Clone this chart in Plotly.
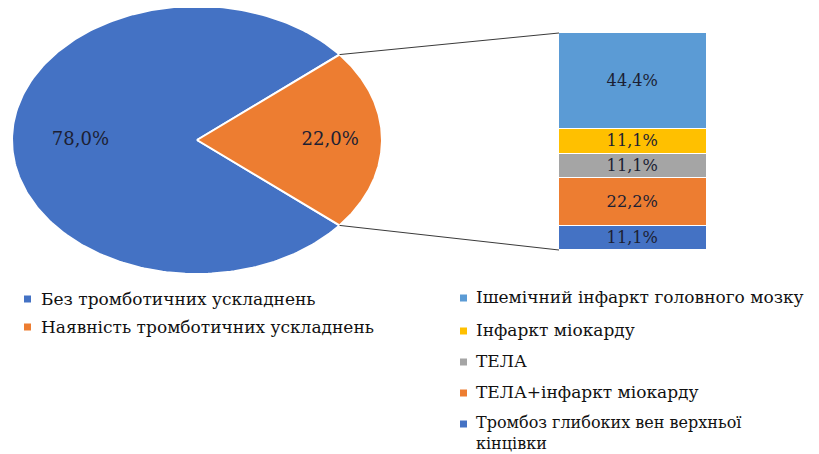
import numpy as np
import plotly.graph_objects as go

# ---------------- data ----------------
pie_labels = ["Без тромботичних ускладнень", "Наявність тромботичних ускладнень"]
pie_values = [78.0, 22.0]
pie_colors = ["#4472C4", "#ED7D31"]

bar_labels = [
    "Ішемічний інфаркт головного мозку",
    "Інфаркт міокарду",
    "ТЕЛА",
    "ТЕЛА+інфаркт міокарду",
    "Тромбоз глибоких вен верхньої<br>кінцівки",
]
bar_values = [44.4, 11.1, 11.1, 22.2, 11.1]
bar_colors = ["#5B9BD5", "#FFC000", "#A5A5A5", "#ED7D31", "#4472C4"]

# ---------------- layout geometry (pixels of the 819x454 window) ----------------
W, H = 819, 454
OFF = 8                                          # default page margin of the html body
CX, CY, RX, RY = 197, 140, 185, 134              # elliptical pie
LABEL_R = [0.63, 0.72]                           # label radial position per slice
BAR_X0, BAR_X1, BAR_TOP, BAR_BOT = 559, 707, 33, 250
FONT = "DejaVu Serif"
LBL_COLOR = "#1c1f33"
TXT_COLOR = "#111111"
FW, FH = W - OFF, H - OFF


def fmt(v):
    return f"{v:.1f}".replace(".", ",") + "%"


fig = go.Figure()

# ----- pie (split slice = last one, centred on the right) -----
total = sum(pie_values)
order = [1, 0]
start = -pie_values[1] / total * 180.0
angles = {}
a = start
for i in order:
    span = pie_values[i] / total * 360.0
    angles[i] = (a, a + span)
    a += span

for i in range(len(pie_values)):
    a0, a1 = angles[i]
    th = np.radians(np.linspace(a0, a1, 240))
    xs = np.concatenate([[CX], CX + RX * np.cos(th), [CX]])
    ys = np.concatenate([[CY], CY - RY * np.sin(th), [CY]])
    fig.add_trace(go.Scatter(
        x=xs, y=ys, mode="lines", fill="toself", fillcolor=pie_colors[i],
        line=dict(color="white", width=2), name=pie_labels[i],
        showlegend=False, hoverinfo="name", xaxis="x", yaxis="y"))

lx, ly, lt = [], [], []
for i in range(len(pie_values)):
    a0, a1 = angles[i]
    m = np.radians((a0 + a1) / 2)
    lx.append(CX + LABEL_R[i] * RX * np.cos(m))
    ly.append(CY - LABEL_R[i] * RY * np.sin(m))
    lt.append(fmt(pie_values[i]))
fig.add_trace(go.Scatter(
    x=lx, y=ly, mode="text", text=lt, showlegend=False, hoverinfo="skip",
    textfont=dict(family=FONT, size=18, color=LBL_COLOR), xaxis="x", yaxis="y"))

# ----- stacked bar (bottom segment first) -----
BAR_CX = (BAR_X0 + BAR_X1) / 2
BAR_W = BAR_X1 - BAR_X0
for i in reversed(range(len(bar_values))):
    fig.add_trace(go.Bar(
        x=[BAR_CX], y=[bar_values[i]], width=[BAR_W],
        marker=dict(color=bar_colors[i], line=dict(color="white", width=1.5)),
        text=[fmt(bar_values[i])], textposition="inside",
        insidetextanchor="middle", textangle=0,
        textfont=dict(family=FONT, size=17, color=LBL_COLOR),
        name=bar_labels[i].replace("<br>", " "), showlegend=False,
        xaxis="x", yaxis="y2"))

# ----- connector lines -----
top_a = np.radians(angles[1][1])
bot_a = np.radians(angles[1][0])
shapes = [
    dict(type="line", xref="x", yref="y",
         x0=CX + RX * np.cos(top_a), y0=CY - RY * np.sin(top_a),
         x1=BAR_X0, y1=BAR_TOP, line=dict(color="#3a3a3a", width=1)),
    dict(type="line", xref="x", yref="y",
         x0=CX + RX * np.cos(bot_a), y0=CY - RY * np.sin(bot_a),
         x1=BAR_X0, y1=BAR_BOT, line=dict(color="#3a3a3a", width=1)),
]

# ----- legends (text + colour squares) -----
annotations = []
LEG1_X, LEG1_Y0, LEG1_DY = 24, 299, 28
for i, lab in enumerate(pie_labels):
    yc = LEG1_Y0 + i * LEG1_DY
    shapes.append(dict(type="rect", xref="x", yref="y", x0=LEG1_X, x1=LEG1_X + 7,
                       y0=yc - 3.5, y1=yc + 3.5, fillcolor=pie_colors[i], line=dict(width=0)))
    annotations.append(dict(x=LEG1_X + 15, y=yc, xref="x", yref="y", text=lab,
                            showarrow=False, xanchor="left", yanchor="middle",
                            font=dict(family=FONT, size=17, color=TXT_COLOR)))

LEG2_X = 460
LEG2_Y = [298, 331, 362, 393, 424]
LINE_H = 20
for i, lab in enumerate(bar_labels):
    yc = LEG2_Y[i]
    nlines = lab.count("<br>") + 1
    shapes.append(dict(type="rect", xref="x", yref="y", x0=LEG2_X, x1=LEG2_X + 7,
                       y0=yc - 3.5, y1=yc + 3.5, fillcolor=bar_colors[i], line=dict(width=0)))
    annotations.append(dict(x=LEG2_X + 15, y=yc + (nlines - 1) * LINE_H / 2 - 1,
                            xref="x", yref="y", text=lab, borderpad=0,
                            showarrow=False, xanchor="left", yanchor="middle", align="left",
                            font=dict(family=FONT, size=17 if nlines == 1 else 16,
                                      color=TXT_COLOR)))

fig.update_layout(
    width=FW, height=FH, autosize=False,
    margin=dict(l=0, r=0, t=0, b=0, pad=0),
    paper_bgcolor="white", plot_bgcolor="rgba(0,0,0,0)",
    barmode="stack", bargap=0,
    showlegend=False,
    xaxis=dict(range=[OFF, W], domain=[0, 1], visible=False, fixedrange=True),
    yaxis=dict(range=[H, OFF], domain=[0, 1], visible=False, fixedrange=True),
    yaxis2=dict(range=[0, sum(bar_values)],
                domain=[(H - BAR_BOT) / FH, (H - BAR_TOP) / FH],
                anchor="x", visible=False, fixedrange=True),
    uniformtext=dict(minsize=16, mode="show"),
    shapes=shapes, annotations=annotations,
)

fig.write_html("out.html")
